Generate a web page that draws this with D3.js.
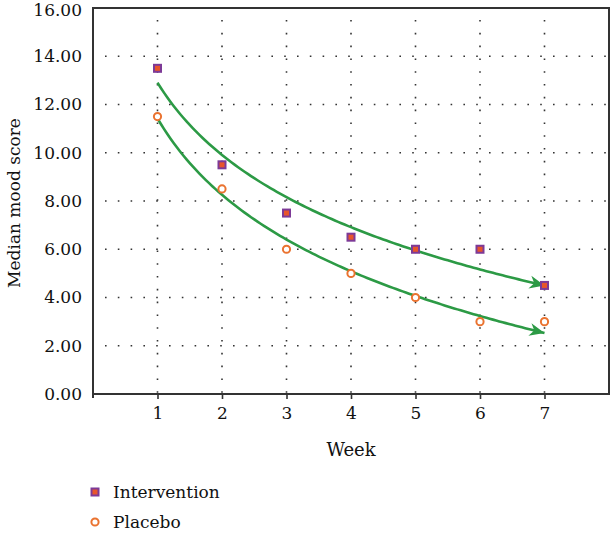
<!DOCTYPE html>
<html>
<head>
<meta charset="utf-8">
<script src="https://cdn.jsdelivr.net/npm/d3@7"></script>
<style>
  html, body { margin: 0; padding: 0; background: #fff; }
  svg { display: block; }
  text { font-family: "DejaVu Serif", serif; fill: #111; }
</style>
</head>
<body>
<svg id="chart" width="610" height="548"></svg>
<script>
const weeks = [1, 2, 3, 4, 5, 6, 7];
const intervention = [13.5, 9.5, 7.5, 6.5, 6.0, 6.0, 4.5];
const placebo = [11.5, 8.5, 6.0, 5.0, 4.0, 3.0, 3.0];
const yTicks = [0, 2, 4, 6, 8, 10, 12, 14, 16];
const seriesNames = ["Intervention", "Placebo"];

(function () {
const svg = d3.select("#chart");
const pL = 93, pR = 609, pT = 8, pB = 394;
const x = d3.scaleLinear().domain([0, 8]).range([pL, pR]);
const y = d3.scaleLinear().domain([0, 16]).range([pB, pT]);

const green = "#2c9a45";
const sqFill = "#e8552b", sqStroke = "#7d3a97", circStroke = "#ea7330";
const ink = "#111";

// grid (dotted)
const grid = svg.append("g");
grid.selectAll(".hg").data(yTicks.filter(d => d > 0 && d < 16)).join("line")
  .attr("x1", pL + 12).attr("x2", pR)
  .attr("y1", d => y(d)).attr("y2", d => y(d))
  .attr("stroke", "#333").attr("stroke-width", 1.6)
  .attr("stroke-dasharray", "1.6,11.2");
grid.selectAll(".vg").data(weeks).join("line")
  .attr("x1", d => x(d)).attr("x2", d => x(d))
  .attr("y1", pT + 12).attr("y2", pB)
  .attr("stroke", "#333").attr("stroke-width", 1.6)
  .attr("stroke-dasharray", "1.6,11.2");

// axes
const yAxis = d3.axisLeft(y).tickValues(yTicks).tickFormat(d3.format(".2f")).tickSize(0).tickPadding(11);
const gy = svg.append("g").attr("transform", `translate(${pL},0)`).call(yAxis);
gy.select(".domain").remove();
gy.selectAll("text").attr("font-size", 17).attr("font-family", "DejaVu Serif").attr("fill", ink)
  .attr("dy", d => d === 16 ? "0.42em" : "0.32em");

const xAxis = d3.axisBottom(x).tickValues(weeks).tickFormat(d3.format("d")).tickSizeInner(5).tickSizeOuter(0).tickPadding(8);
const gx = svg.append("g").attr("transform", `translate(0,${pB})`).call(xAxis);
gx.select(".domain").remove();
gx.selectAll("line").attr("stroke", "#333").attr("stroke-width", 1.6);
gx.selectAll("text").attr("font-size", 17).attr("font-family", "DejaVu Serif").attr("fill", ink);

// frame
svg.append("rect").attr("x", pL).attr("y", pT)
  .attr("width", pR - pL).attr("height", pB - pT)
  .attr("fill", "none").attr("stroke", "#333").attr("stroke-width", 2);
svg.append("line").attr("x1", pL).attr("x2", pL).attr("y1", pB).attr("y2", pB + 4)
  .attr("stroke", "#333").attr("stroke-width", 2);

// axis titles
svg.append("text").attr("x", x(4)).attr("y", 456).attr("text-anchor", "middle")
  .attr("font-size", 18).text("Week");
svg.append("text").attr("transform", `translate(20,${203}) rotate(-90)`)
  .attr("text-anchor", "middle").attr("font-size", 17).text("Median mood score");

// logarithmic trend lines fitted from data
function logFit(xs, ys) {
  const lx = xs.map(Math.log);
  const mx = d3.mean(lx), my = d3.mean(ys);
  let sxy = 0, sxx = 0;
  lx.forEach((v, i) => { sxy += (v - mx) * (ys[i] - my); sxx += (v - mx) * (v - mx); });
  const b = sxy / sxx, a = my - b * mx;
  return t => a + b * Math.log(t);
}
const defs = svg.append("defs");
defs.append("marker").attr("id", "arrow").attr("viewBox", "-16 -8 18 16")
  .attr("refX", 0).attr("refY", 0).attr("markerWidth", 18).attr("markerHeight", 16)
  .attr("markerUnits", "userSpaceOnUse").attr("orient", "auto")
  .append("path").attr("d", "M0,0 L-15,-6.5 L-10.5,0 L-15,6.5 Z").attr("fill", green);

const line = d3.line().x(d => x(d[0])).y(d => y(d[1])).curve(d3.curveLinear);
[intervention, placebo].forEach(vals => {
  const f = logFit(weeks, vals);
  const pts = d3.range(0, 121).map(i => { const t = 1 + 6 * i / 120; return [t, f(t)]; });
  svg.append("path").datum(pts).attr("d", line)
    .attr("fill", "none").attr("stroke", green).attr("stroke-width", 2.6)
    .attr("marker-end", "url(#arrow)");
});

// markers
svg.append("g").selectAll("rect").data(weeks).join("rect")
  .attr("x", d => x(d) - 3.5).attr("y", (d, i) => y(intervention[i]) - 3.5)
  .attr("width", 7).attr("height", 7)
  .attr("fill", sqFill).attr("stroke", sqStroke).attr("stroke-width", 2);
svg.append("g").selectAll("circle").data(weeks).join("circle")
  .attr("cx", d => x(d)).attr("cy", (d, i) => y(placebo[i]))
  .attr("r", 3.6).attr("fill", "#fff").attr("stroke", circStroke).attr("stroke-width", 2);

// legend
const lg = svg.append("g");
lg.append("rect").attr("x", 95 - 3.5).attr("y", 492 - 3.5).attr("width", 7).attr("height", 7)
  .attr("fill", sqFill).attr("stroke", sqStroke).attr("stroke-width", 2);
lg.append("text").attr("x", 113).attr("y", 498).attr("font-size", 17).text(seriesNames[0]);
lg.append("circle").attr("cx", 95).attr("cy", 522).attr("r", 3.6)
  .attr("fill", "#fff").attr("stroke", circStroke).attr("stroke-width", 2);
lg.append("text").attr("x", 113).attr("y", 528).attr("font-size", 17).text(seriesNames[1]);
})();
</script>
</body>
</html>
